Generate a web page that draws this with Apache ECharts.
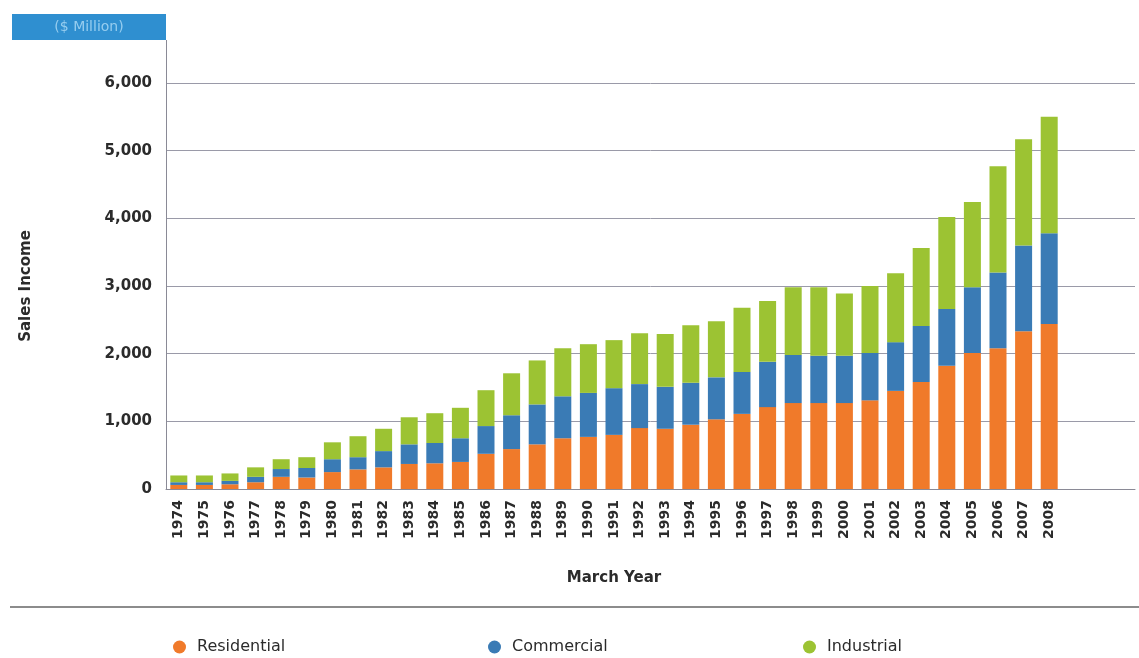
<!DOCTYPE html>
<html>
<head>
<meta charset="utf-8">
<title>Sales Income by Sector</title>
<script src="https://cdn.jsdelivr.net/npm/echarts@6/dist/echarts.min.js"></script>
<style>
  html, body { margin: 0; padding: 0; background: #ffffff; }
  #chart { width: 1139px; height: 658px; }
</style>
</head>
<body>
<div id="chart"></div>
<script>
// March years
const years = ['1974','1975','1976','1977','1978','1979','1980','1981','1982','1983',
  '1984','1985','1986','1987','1988','1989','1990','1991','1992','1993',
  '1994','1995','1996','1997','1998','1999','2000','2001','2002','2003',
  '2004','2005','2006','2007','2008'];

// Sales income, $ million
const residential = [60,60,70,100,180,170,250,290,320,370,
  380,400,520,590,660,750,770,800,900,890,
  950,1030,1110,1210,1270,1270,1270,1310,1450,1580,
  1820,2010,2080,2330,2440];
const commercial = [40,40,50,80,115,140,190,180,240,290,
  300,350,410,500,590,620,650,690,650,620,
  620,620,620,670,710,700,700,700,720,830,
  840,970,1120,1270,1340];
const industrial = [100,100,110,140,145,160,250,310,330,400,
  440,450,530,620,650,710,720,710,750,780,
  850,830,950,900,1000,1010,920,990,1020,1150,
  1360,1260,1570,1570,1720];

const seriesNames = ['Residential', 'Commercial', 'Industrial'];
const yTicks = [0, 1000, 2000, 3000, 4000, 5000, 6000];

const COLORS = ['#f07a2a', '#3a7bb5', '#9cc333'];
const FONT = '"DejaVu Sans", "Noto Sans", sans-serif';
const TEXT = '#2b2b2b';

const chart = echarts.init(document.getElementById('chart'), null, { renderer: 'canvas' });

const yMin = yTicks[0];
const yMax = yTicks[yTicks.length - 1];
const yStep = yTicks[1] - yTicks[0];

const legendLefts = [168, 483, 798];

chart.setOption({
  animation: false,
  backgroundColor: '#ffffff',
  grid: [
    // bars
    { left: 166, right: 77, top: 83, bottom: 169 },
    // full-width frame with gridlines
    { left: 166, right: 4, top: 83, bottom: 169 }
  ],
  xAxis: [
    {
      type: 'category', gridIndex: 0, data: years,
      axisLine: { show: false }, axisTick: { show: false },
      axisLabel: {
        rotate: 90, margin: 11, interval: 0,
        color: TEXT, fontFamily: FONT, fontWeight: 'bold', fontSize: 14
      },
      name: 'March Year', nameLocation: 'middle', nameGap: 82,
      nameTextStyle: { color: TEXT, fontFamily: FONT, fontWeight: 'bold', fontSize: 15 }
    },
    {
      type: 'value', gridIndex: 1, min: 0, max: 1,
      axisLine: { show: true, lineStyle: { color: '#8a8a96', width: 1 } },
      axisTick: { show: false }, axisLabel: { show: false }, splitLine: { show: false }
    }
  ],
  yAxis: [
    {
      type: 'value', gridIndex: 0, min: yMin, max: yMax, interval: yStep,
      axisLine: { show: true, lineStyle: { color: '#8a8a96', width: 1 } },
      axisTick: { show: false },
      splitLine: { show: false },
      axisLabel: {
        margin: 14, color: TEXT, fontFamily: FONT, fontWeight: 'bold', fontSize: 15,
        formatter: v => v.toLocaleString('en-US')
      },
      name: 'Sales Income', nameLocation: 'middle', nameGap: 132,
      nameTextStyle: { color: TEXT, fontFamily: FONT, fontWeight: 'bold', fontSize: 15 }
    },
    {
      type: 'value', gridIndex: 1, min: yMin, max: yMax, interval: yStep,
      axisLine: { show: false }, axisTick: { show: false }, axisLabel: { show: false },
      splitLine: { show: true, lineStyle: { color: '#9a9aa8', width: 1 } }
    }
  ],
  legend: seriesNames.map((n, i) => ({
    data: [n], left: legendLefts[i], top: 634,
    icon: 'circle', itemWidth: 13, itemHeight: 13, itemGap: 10,
    textStyle: { color: TEXT, fontFamily: FONT, fontSize: 16, padding: [0, 0, 0, 6] }
  })),
  graphic: [
    { type: 'rect', shape: { x: 12, y: 14, width: 154, height: 26 }, style: { fill: '#2f8fd0' } },
    { type: 'text', style: { x: 89, y: 27, text: '($ Million)', fill: '#96cdef',
      font: '14px "DejaVu Sans", sans-serif', textAlign: 'center', textVerticalAlign: 'middle' } },
    { type: 'line', shape: { x1: 166.5, y1: 40, x2: 166.5, y2: 83 }, style: { stroke: '#8a8a96', lineWidth: 1 } },
    { type: 'line', shape: { x1: 10, y1: 607, x2: 1139, y2: 607 }, style: { stroke: '#8c8c8c', lineWidth: 2 } }
  ],
  series: [
    { name: seriesNames[0], type: 'bar', stack: 'total', data: residential, barWidth: 17,
      xAxisIndex: 0, yAxisIndex: 0, itemStyle: { color: COLORS[0] } },
    { name: seriesNames[1], type: 'bar', stack: 'total', data: commercial, barWidth: 17,
      xAxisIndex: 0, yAxisIndex: 0, itemStyle: { color: COLORS[1] } },
    { name: seriesNames[2], type: 'bar', stack: 'total', data: industrial, barWidth: 17,
      xAxisIndex: 0, yAxisIndex: 0, itemStyle: { color: COLORS[2] } }
  ]
});
</script>
</body>
</html>
